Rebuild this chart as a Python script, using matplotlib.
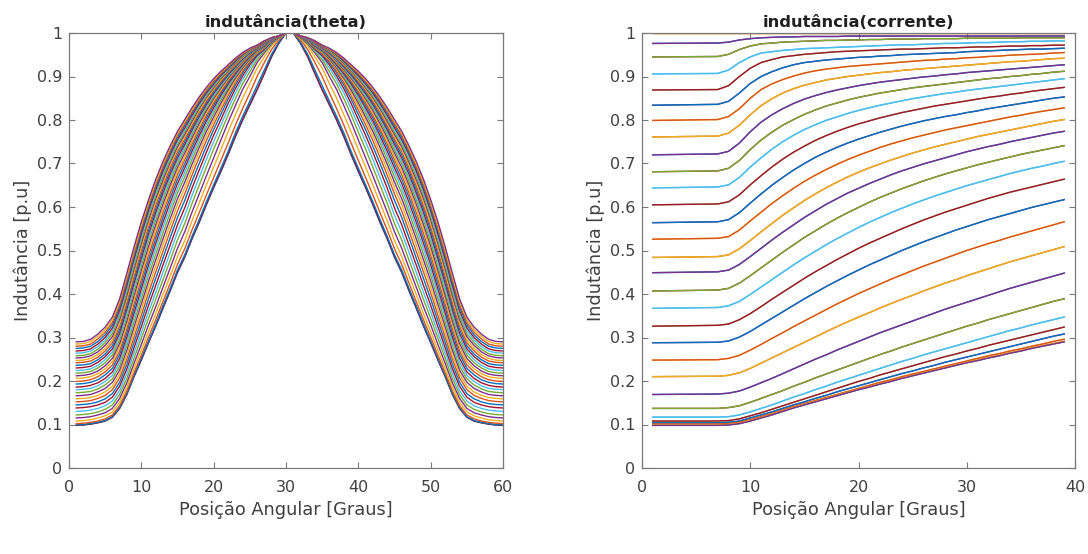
import numpy as np
import matplotlib
matplotlib.use("Agg")
import matplotlib.pyplot as plt

# rotor position (deg) for the half period; the other half mirrors it
THETA_HALF = list(range(1, 31))
# current values (A) where the curves were read
CURRENT_A = [1] + list(range(7, 40))

# inductance [p.u], one row per theta (1..30), one column per current above
L_TABLE = [
    [0.098, 0.098, 0.099, 0.102, 0.108, 0.115, 0.122, 0.130, 0.138, 0.145, 0.152, 0.159, 0.166, 0.173, 0.180, 0.186, 0.193, 0.199, 0.206, 0.212, 0.218, 0.224, 0.230, 0.236, 0.242, 0.247, 0.253, 0.258, 0.264, 0.269, 0.275, 0.280, 0.285, 0.290],
    [0.099, 0.099, 0.100, 0.103, 0.109, 0.116, 0.123, 0.131, 0.139, 0.146, 0.153, 0.160, 0.167, 0.174, 0.181, 0.187, 0.194, 0.200, 0.207, 0.213, 0.219, 0.225, 0.231, 0.237, 0.243, 0.248, 0.254, 0.259, 0.265, 0.270, 0.276, 0.281, 0.286, 0.291],
    [0.101, 0.101, 0.102, 0.105, 0.111, 0.118, 0.125, 0.133, 0.141, 0.148, 0.155, 0.162, 0.169, 0.176, 0.183, 0.190, 0.197, 0.203, 0.210, 0.216, 0.222, 0.228, 0.234, 0.240, 0.246, 0.252, 0.258, 0.263, 0.269, 0.274, 0.280, 0.285, 0.291, 0.296],
    [0.104, 0.104, 0.105, 0.108, 0.115, 0.122, 0.129, 0.137, 0.145, 0.152, 0.160, 0.167, 0.175, 0.182, 0.189, 0.196, 0.203, 0.210, 0.217, 0.223, 0.230, 0.236, 0.243, 0.249, 0.255, 0.261, 0.267, 0.273, 0.279, 0.285, 0.291, 0.297, 0.303, 0.308],
    [0.108, 0.108, 0.109, 0.113, 0.120, 0.127, 0.135, 0.143, 0.151, 0.159, 0.167, 0.175, 0.183, 0.191, 0.199, 0.206, 0.214, 0.221, 0.228, 0.235, 0.242, 0.249, 0.256, 0.262, 0.269, 0.275, 0.282, 0.288, 0.294, 0.300, 0.306, 0.312, 0.318, 0.324],
    [0.117, 0.117, 0.118, 0.122, 0.129, 0.137, 0.145, 0.154, 0.163, 0.171, 0.180, 0.188, 0.197, 0.205, 0.213, 0.221, 0.229, 0.237, 0.245, 0.252, 0.260, 0.267, 0.274, 0.281, 0.288, 0.295, 0.302, 0.309, 0.316, 0.322, 0.329, 0.335, 0.341, 0.347],
    [0.137, 0.137, 0.139, 0.143, 0.151, 0.160, 0.169, 0.178, 0.188, 0.197, 0.207, 0.216, 0.225, 0.234, 0.243, 0.252, 0.261, 0.269, 0.278, 0.286, 0.294, 0.302, 0.310, 0.318, 0.326, 0.333, 0.341, 0.348, 0.355, 0.362, 0.369, 0.376, 0.383, 0.389],
    [0.169, 0.170, 0.172, 0.177, 0.186, 0.196, 0.206, 0.217, 0.228, 0.239, 0.250, 0.260, 0.271, 0.281, 0.291, 0.301, 0.311, 0.320, 0.329, 0.338, 0.347, 0.356, 0.365, 0.373, 0.381, 0.389, 0.397, 0.405, 0.413, 0.420, 0.427, 0.434, 0.441, 0.448],
    [0.210, 0.211, 0.213, 0.219, 0.229, 0.241, 0.253, 0.265, 0.277, 0.289, 0.301, 0.313, 0.325, 0.336, 0.347, 0.357, 0.368, 0.378, 0.388, 0.397, 0.407, 0.416, 0.425, 0.433, 0.442, 0.450, 0.458, 0.466, 0.474, 0.481, 0.488, 0.495, 0.502, 0.509],
    [0.248, 0.249, 0.252, 0.259, 0.271, 0.284, 0.298, 0.311, 0.325, 0.338, 0.351, 0.364, 0.377, 0.389, 0.401, 0.412, 0.423, 0.434, 0.444, 0.454, 0.464, 0.473, 0.482, 0.491, 0.500, 0.508, 0.516, 0.523, 0.531, 0.538, 0.545, 0.552, 0.559, 0.566],
    [0.288, 0.289, 0.292, 0.301, 0.314, 0.329, 0.344, 0.359, 0.374, 0.389, 0.403, 0.417, 0.430, 0.443, 0.455, 0.467, 0.478, 0.489, 0.500, 0.510, 0.520, 0.529, 0.538, 0.547, 0.555, 0.563, 0.571, 0.578, 0.585, 0.592, 0.599, 0.605, 0.611, 0.617],
    [0.326, 0.328, 0.331, 0.341, 0.355, 0.371, 0.388, 0.404, 0.420, 0.436, 0.451, 0.465, 0.479, 0.492, 0.505, 0.517, 0.528, 0.539, 0.550, 0.560, 0.570, 0.579, 0.588, 0.596, 0.604, 0.612, 0.620, 0.627, 0.634, 0.640, 0.646, 0.652, 0.658, 0.664],
    [0.367, 0.369, 0.373, 0.383, 0.399, 0.416, 0.433, 0.450, 0.467, 0.483, 0.498, 0.513, 0.527, 0.540, 0.553, 0.565, 0.576, 0.587, 0.597, 0.607, 0.616, 0.625, 0.633, 0.641, 0.649, 0.656, 0.663, 0.670, 0.677, 0.683, 0.689, 0.694, 0.700, 0.705],
    [0.407, 0.409, 0.413, 0.425, 0.442, 0.460, 0.478, 0.496, 0.513, 0.530, 0.545, 0.560, 0.574, 0.587, 0.599, 0.611, 0.622, 0.632, 0.642, 0.651, 0.660, 0.668, 0.676, 0.683, 0.690, 0.697, 0.703, 0.709, 0.715, 0.721, 0.726, 0.731, 0.736, 0.741],
    [0.449, 0.451, 0.455, 0.468, 0.486, 0.505, 0.524, 0.542, 0.559, 0.576, 0.591, 0.606, 0.619, 0.632, 0.643, 0.654, 0.664, 0.674, 0.683, 0.691, 0.699, 0.706, 0.713, 0.720, 0.727, 0.733, 0.739, 0.744, 0.750, 0.755, 0.760, 0.765, 0.770, 0.774],
    [0.484, 0.486, 0.490, 0.504, 0.523, 0.543, 0.562, 0.581, 0.598, 0.615, 0.630, 0.644, 0.657, 0.669, 0.680, 0.690, 0.699, 0.708, 0.716, 0.724, 0.731, 0.738, 0.744, 0.750, 0.756, 0.762, 0.767, 0.772, 0.777, 0.782, 0.787, 0.792, 0.797, 0.801],
    [0.526, 0.528, 0.532, 0.547, 0.568, 0.588, 0.608, 0.626, 0.643, 0.659, 0.673, 0.686, 0.698, 0.709, 0.719, 0.728, 0.737, 0.745, 0.752, 0.759, 0.765, 0.771, 0.777, 0.782, 0.787, 0.792, 0.797, 0.802, 0.807, 0.811, 0.816, 0.820, 0.824, 0.828],
    [0.564, 0.566, 0.571, 0.587, 0.609, 0.630, 0.650, 0.668, 0.685, 0.700, 0.714, 0.726, 0.737, 0.747, 0.756, 0.764, 0.772, 0.779, 0.786, 0.792, 0.798, 0.803, 0.808, 0.812, 0.817, 0.821, 0.826, 0.830, 0.834, 0.838, 0.842, 0.846, 0.850, 0.853],
    [0.605, 0.607, 0.612, 0.628, 0.651, 0.672, 0.692, 0.710, 0.726, 0.740, 0.753, 0.764, 0.774, 0.783, 0.791, 0.798, 0.805, 0.811, 0.817, 0.822, 0.827, 0.832, 0.836, 0.840, 0.844, 0.848, 0.852, 0.855, 0.859, 0.862, 0.866, 0.869, 0.872, 0.875],
    [0.644, 0.646, 0.651, 0.668, 0.692, 0.713, 0.733, 0.750, 0.765, 0.778, 0.789, 0.799, 0.807, 0.815, 0.822, 0.828, 0.834, 0.839, 0.844, 0.849, 0.853, 0.857, 0.861, 0.864, 0.868, 0.871, 0.874, 0.877, 0.880, 0.883, 0.886, 0.889, 0.892, 0.895],
    [0.681, 0.683, 0.689, 0.707, 0.732, 0.754, 0.772, 0.788, 0.801, 0.813, 0.823, 0.832, 0.839, 0.846, 0.852, 0.857, 0.862, 0.866, 0.870, 0.874, 0.877, 0.880, 0.883, 0.886, 0.889, 0.892, 0.895, 0.897, 0.900, 0.902, 0.905, 0.907, 0.910, 0.912],
    [0.720, 0.722, 0.728, 0.747, 0.773, 0.795, 0.812, 0.826, 0.838, 0.848, 0.856, 0.863, 0.869, 0.874, 0.879, 0.883, 0.887, 0.890, 0.893, 0.896, 0.899, 0.901, 0.904, 0.906, 0.909, 0.911, 0.913, 0.915, 0.917, 0.919, 0.921, 0.923, 0.925, 0.927],
    [0.761, 0.763, 0.770, 0.788, 0.812, 0.833, 0.849, 0.862, 0.872, 0.880, 0.886, 0.892, 0.896, 0.900, 0.903, 0.906, 0.909, 0.911, 0.914, 0.916, 0.918, 0.920, 0.922, 0.924, 0.926, 0.928, 0.930, 0.932, 0.934, 0.935, 0.937, 0.939, 0.941, 0.942],
    [0.799, 0.801, 0.808, 0.826, 0.850, 0.870, 0.883, 0.893, 0.901, 0.908, 0.913, 0.917, 0.920, 0.923, 0.925, 0.927, 0.929, 0.931, 0.933, 0.935, 0.937, 0.938, 0.940, 0.941, 0.943, 0.944, 0.946, 0.947, 0.949, 0.950, 0.951, 0.952, 0.954, 0.955],
    [0.834, 0.836, 0.843, 0.862, 0.884, 0.900, 0.911, 0.920, 0.927, 0.932, 0.935, 0.938, 0.940, 0.942, 0.944, 0.945, 0.947, 0.948, 0.950, 0.951, 0.952, 0.953, 0.954, 0.955, 0.957, 0.958, 0.959, 0.960, 0.961, 0.962, 0.963, 0.963, 0.964, 0.965],
    [0.869, 0.870, 0.879, 0.900, 0.919, 0.932, 0.939, 0.945, 0.948, 0.951, 0.953, 0.955, 0.957, 0.958, 0.959, 0.960, 0.961, 0.962, 0.963, 0.963, 0.964, 0.965, 0.966, 0.966, 0.967, 0.968, 0.968, 0.969, 0.970, 0.970, 0.971, 0.971, 0.972, 0.972],
    [0.906, 0.907, 0.915, 0.932, 0.945, 0.954, 0.957, 0.960, 0.962, 0.964, 0.965, 0.966, 0.967, 0.968, 0.969, 0.970, 0.971, 0.972, 0.973, 0.973, 0.974, 0.975, 0.976, 0.976, 0.977, 0.978, 0.978, 0.979, 0.980, 0.980, 0.981, 0.981, 0.982, 0.982],
    [0.945, 0.946, 0.951, 0.962, 0.970, 0.975, 0.977, 0.979, 0.980, 0.981, 0.982, 0.983, 0.983, 0.984, 0.984, 0.985, 0.985, 0.986, 0.986, 0.986, 0.987, 0.987, 0.987, 0.987, 0.988, 0.988, 0.988, 0.988, 0.988, 0.989, 0.989, 0.989, 0.989, 0.989],
    [0.976, 0.977, 0.979, 0.984, 0.987, 0.989, 0.990, 0.991, 0.991, 0.992, 0.992, 0.992, 0.992, 0.993, 0.993, 0.993, 0.993, 0.993, 0.993, 0.993, 0.993, 0.993, 0.993, 0.993, 0.993, 0.993, 0.993, 0.993, 0.993, 0.993, 0.993, 0.993, 0.993, 0.993],
    [1.0] * 34,
]

# matlab default line colours
COLORS = ['#0072BD', '#D95319', '#EDB120', '#7E2F8E', '#77AC30', '#4DBEEE', '#A2142F']

TEXT_C = '#404040'
AX_C = '#7a7a7a'

half = np.array(L_TABLE)
# full period 1..60: second half is the first one mirrored
full = np.vstack([half, half[::-1]])
theta_full = THETA_HALF + [61 - t for t in THETA_HALF[::-1]]

fig = plt.figure(figsize=(10.88, 5.54), dpi=100)
ax1 = fig.add_axes([69 / 1088, 86 / 554, 434 / 1088, 435 / 554])
ax2 = fig.add_axes([642 / 1088, 86 / 554, 433 / 1088, 435 / 554])

# left: one curve per current
for j, cur in enumerate(CURRENT_A):
    ax1.plot(theta_full, full[:, j], color=COLORS[(cur - 1) % 7], lw=1.0)

# right: one curve per position
for k in range(len(theta_full)):
    ax2.plot(CURRENT_A, full[k], color=COLORS[k % 7], lw=1.0)


def style(ax, xmax, title):
    ax.set_xlim(0, xmax)
    ax.set_ylim(0, 1)
    ax.set_xticks(range(0, xmax + 1, 10))
    ax.set_yticks(np.arange(0, 1.01, 0.1))
    ax.set_yticklabels(['0', '0.1', '0.2', '0.3', '0.4', '0.5', '0.6', '0.7', '0.8', '0.9', '1'])
    ax.tick_params(direction='in', top=True, right=True, length=4, width=0.8,
                   colors=AX_C, labelcolor=TEXT_C, labelsize=11.5, pad=5)
    ax.tick_params(axis='x', pad=9)
    for s in ax.spines.values():
        s.set_color(AX_C)
        s.set_linewidth(0.9)
    ax.set_title(title, fontsize=11.8, fontweight='bold', color='#202020', pad=4)
    ax.set_xlabel('Posição Angular [Graus]', fontsize=12.8, color=TEXT_C, labelpad=4)
    ax.set_ylabel('Indutância [p.u]', fontsize=12.8, color=TEXT_C, labelpad=3)


style(ax1, 60, 'indutância(theta)')
style(ax2, 40, 'indutância(corrente)')

fig.savefig('out.png', dpi=100, facecolor='white')
